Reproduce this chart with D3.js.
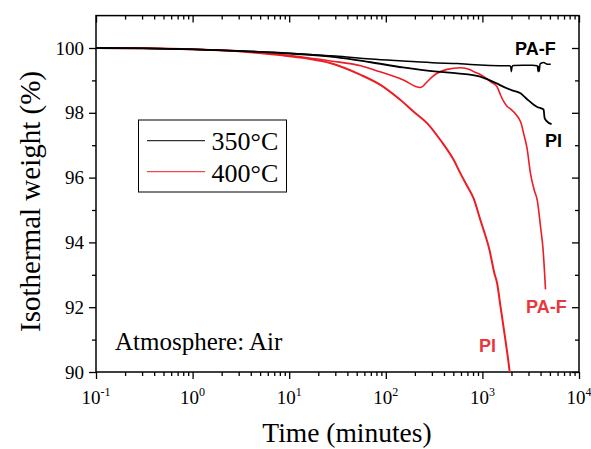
<!DOCTYPE html>
<html><head><meta charset="utf-8">
<script src="https://cdn.jsdelivr.net/npm/d3@7"></script>
<style>body{margin:0;background:#fff}svg{display:block}</style>
</head><body>
<svg id="c" width="591" height="449"></svg>
<script>
// ---- data (time in minutes, isothermal weight in %) ----
const paf350T = [0.1,0.3,1,3,10,30,70,150,340,550,750,1200,1900,1960,1995,2030,2100,2600,3300,3700,3780,3830,3880,3950,4050,4300,4700,5100];
const paf350W = [100,99.99,99.96,99.91,99.84,99.75,99.66,99.6,99.54,99.52,99.49,99.46,99.45,99.43,99.27,99.43,99.46,99.47,99.47,99.45,99.27,99.44,99.28,99.5,99.53,99.55,99.5,99.5];
const pi350T = [0.1,0.3,1,3,10,30,70,150,340,550,950,1200,1420,1660,2000,2480,2900,3400,3700,4300,4400,4600,5200];
const pi350W = [100,99.99,99.96,99.91,99.83,99.72,99.56,99.4,99.27,99.22,99.12,99.0,98.9,98.8,98.7,98.6,98.42,98.25,98.18,98.1,97.85,97.75,97.65];
const paf400T = [0.1,0.3,1,3,10,27,55,80,150,228,267,300,340,430,590,750,813,950,1100,1210,1420,1540,1660,1800,1950,2290,2500,2680,2900,3145,3450,3700,4000,4250,4500];
const paf400W = [100,99.99,99.96,99.9,99.77,99.6,99.45,99.3,99.02,98.78,98.95,99.1,99.22,99.34,99.39,99.33,99.27,99.18,99.06,98.96,98.8,98.55,98.35,98.2,98.12,97.9,97.7,97.35,96.9,96.13,95.6,95.3,94.48,93.77,92.55];
const pi400T = [0.1,0.3,1,3,8,15,27,55,88,141,200,267,367,505,592,693,813,953,1030,1183,1330,1420,1540,1730,1905,1930];
const pi400W = [100,99.99,99.96,99.9,99.78,99.68,99.53,99.17,98.86,98.4,98.0,97.68,97.16,96.54,96.13,95.75,95.35,94.69,94.38,93.77,93.05,92.74,92.02,90.99,90.06,89.9];
const xMajor = [0.1,1,10,100,1000,10000];
const xExp = ["-1","0","1","2","3","4"];
const yMajor = [90,92,94,96,98,100];
const yMinor = [91,93,95,97,99];
const legendLabels = ["350°C","400°C"];

const svg = d3.select("#c");
const L=96,R=579,T=15.6,B=372;
const x = d3.scaleLog().domain([0.1,1e4]).range([L,R]);
const y = d3.scaleLinear().domain([90,101]).range([B,T]);
const black="#000", red="#ee1c24", redLbl="#e8383d";
const serif="Liberation Serif, Times New Roman, serif";
const sans="Liberation Sans, Arial, sans-serif";

// minor ticks for log axis
const xAll=[];
for(let e=-1;e<4;e++) for(let m=1;m<10;m++) xAll.push(m*Math.pow(10,e));
xAll.push(1e4);
const isMaj = v => xMajor.some(m=>Math.abs(m-v)/m<1e-6);

// axes
function styleAx(g){g.select(".domain").remove();g.selectAll("line").attr("stroke","#000").attr("stroke-width",1.3);}
svg.append("g").attr("transform",`translate(0,${B})`)
  .call(d3.axisBottom(x).tickValues(xAll).tickFormat("").tickSizeOuter(0))
  .call(styleAx).call(g=>g.selectAll(".tick line").attr("y2",d=>isMaj(d)?7:4));
svg.append("g").attr("transform",`translate(0,${T})`)
  .call(d3.axisBottom(x).tickValues(xAll).tickFormat("").tickSizeOuter(0))
  .call(styleAx).call(g=>g.selectAll(".tick line").attr("y2",d=>isMaj(d)?7:4));
const yAll=yMajor.concat(yMinor);
svg.append("g").attr("transform",`translate(${L},0)`)
  .call(d3.axisLeft(y).tickValues(yAll).tickFormat("").tickSizeOuter(0))
  .call(styleAx).call(g=>g.selectAll(".tick line").attr("x2",d=>yMajor.includes(d)?-7:-4));
svg.append("g").attr("transform",`translate(${R},0)`)
  .call(d3.axisLeft(y).tickValues(yAll).tickFormat("").tickSizeOuter(0))
  .call(styleAx).call(g=>g.selectAll(".tick line").attr("x2",d=>yMajor.includes(d)?-7:-4));
svg.append("rect").attr("x",L).attr("y",T).attr("width",R-L).attr("height",B-T)
  .attr("fill","none").attr("stroke","#000").attr("stroke-width",1.5);

// tick labels
svg.append("g").selectAll("text").data(yMajor).join("text")
  .attr("x",84).attr("y",d=>y(d)+6.5).attr("text-anchor","end")
  .attr("font-family",serif).attr("font-size",19).text(d=>d);
const xl = svg.append("g").selectAll("text").data(xMajor).join("text")
  .attr("x",d=>x(d)).attr("y",404).attr("text-anchor","middle")
  .attr("font-family",serif).attr("font-size",19);
xl.append("tspan").text("10");
xl.append("tspan").attr("dy",-8).attr("font-size",12).text((d,i)=>xExp[i]);

// axis titles
svg.append("text").attr("x",347).attr("y",442).attr("text-anchor","middle")
  .attr("font-family",serif).attr("font-size",27.5).text("Time (minutes)");
svg.append("text").attr("transform","translate(40,201.5) rotate(-90)").attr("text-anchor","middle")
  .attr("font-family",serif).attr("font-size",29).text("Isothermal weight (%)");

// curves
svg.append("clipPath").attr("id","cp").append("rect").attr("x",L).attr("y",T).attr("width",R-L).attr("height",B-T);
const line = d3.line().x(d=>x(d[0])).y(d=>y(d[1])).curve(d3.curveMonotoneX);
const zip=(a,b)=>a.map((t,i)=>[t,b[i]]);
const cg = svg.append("g").attr("clip-path","url(#cp)");
cg.append("path").attr("d",line(zip(pi400T,pi400W))).attr("fill","none").attr("stroke",red).attr("stroke-width",2);
cg.append("path").attr("d",line(zip(paf400T,paf400W))).attr("fill","none").attr("stroke",red).attr("stroke-width",1.6);
cg.append("path").attr("d",line(zip(pi350T,pi350W))).attr("fill","none").attr("stroke",black).attr("stroke-width",1.8);
cg.append("path").attr("d",line(zip(paf350T,paf350W))).attr("fill","none").attr("stroke",black).attr("stroke-width",1.5);

// curve labels
const lab=(t,xx,yy,c)=>svg.append("text").attr("x",xx).attr("y",yy).attr("font-family",sans)
  .attr("font-weight","bold").attr("font-size",18).attr("fill",c).text(t);
lab("PA-F",515,55,black); lab("PI",545,147,black);
lab("PA-F",526,313,redLbl); lab("PI",479,351.5,redLbl);

// legend
svg.append("rect").attr("x",138.5).attr("y",120).attr("width",148).attr("height",72)
  .attr("fill","#fff").attr("stroke","#000").attr("stroke-width",1);
[black,red].forEach((c,i)=>{
  const yy=[140.7,171.7][i];
  svg.append("line").attr("x1",147).attr("x2",205).attr("y1",yy).attr("y2",yy).attr("stroke",c).attr("stroke-width",1);
  svg.append("text").attr("x",211.5).attr("y",[150,181.5][i]).attr("font-family",serif).attr("font-size",26).text(legendLabels[i]);
});
svg.append("text").attr("x",115).attr("y",350).attr("font-family",serif).attr("font-size",25).text("Atmosphere: Air");
</script>
</body></html>
